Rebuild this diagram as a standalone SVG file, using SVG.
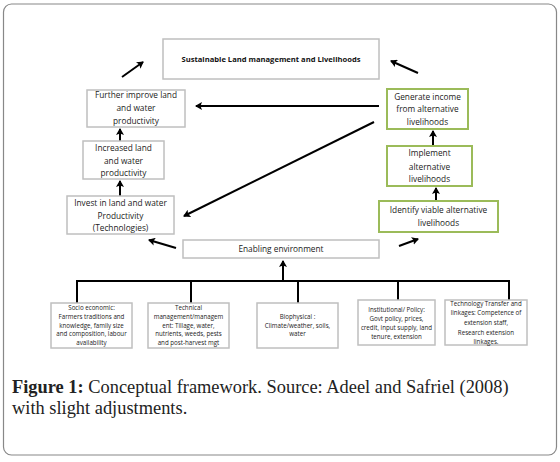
<svg xmlns="http://www.w3.org/2000/svg" width="560" height="462" viewBox="0 0 560 462">
<style>
.bx{fill:#fff;stroke:#bfbfbf;stroke-width:1.5}
.gb{fill:#fff;stroke:#9bbb59;stroke-width:2}
.t{font-family:"Open Sans","Liberation Sans",sans-serif;font-size:8.3px;fill:#222;text-anchor:middle}
.tb{font-family:"Open Sans","Liberation Sans",sans-serif;font-size:7.6px;font-weight:bold;fill:#111;text-anchor:middle}
.ts{font-family:"Open Sans","Liberation Sans",sans-serif;font-size:6.2px;fill:#222;text-anchor:middle}
.ar{stroke:#000;stroke-width:2;fill:none;marker-end:url(#ah)}
.ln{stroke:#000;stroke-width:2;fill:none}
.cap{font-family:"Liberation Serif",serif;font-size:18.4px;fill:#222}
</style>
<defs>
<marker id="ah" markerWidth="8" markerHeight="8" refX="6" refY="4" orient="auto" markerUnits="userSpaceOnUse">
<path d="M0,0 L7,4 L0,8 L1.5,4 Z" fill="#000"/>
</marker>
</defs>
<rect x="0" y="0" width="560" height="462" fill="#fff"/>
<rect x="3.5" y="4" width="553" height="451" rx="8" fill="#fff" stroke="#888" stroke-width="1.2"/>

<g id="connectors">
<line class="ar" x1="122" y1="77" x2="143" y2="62"/>
<line class="ar" x1="418" y1="73" x2="391" y2="61"/>
<line class="ar" x1="379" y1="106" x2="196" y2="106"/>
<line class="ar" x1="374" y1="122" x2="184" y2="216"/>
<line class="ar" x1="176" y1="248" x2="149" y2="240"/>
<line class="ar" x1="399" y1="246" x2="418" y2="239"/>
<line class="ar" x1="120" y1="141" x2="120" y2="129"/>
<line class="ar" x1="120" y1="196" x2="120" y2="181"/>
<line class="ar" x1="433" y1="146" x2="433" y2="131"/>
<line class="ar" x1="436" y1="201" x2="436" y2="188"/>
<line class="ar" x1="283" y1="281" x2="283" y2="261"/>
<polyline class="ln" points="77,303 77,281 509,281 509,300"/>
<line class="ln" x1="191" y1="281" x2="191" y2="303"/>
<line class="ln" x1="298" y1="281" x2="298" y2="303"/>
<line class="ln" x1="398" y1="281" x2="398" y2="300"/>
</g>

<g id="slm"><rect class="bx" x="163" y="39" width="216" height="40"/><text class="tb" x="271" y="62">Sustainable Land management and Livelihoods</text></g>
<g id="further"><rect class="bx" x="87" y="90" width="98" height="37"/><text class="t" x="136" y="98">Further improve land</text><text class="t" x="136" y="111">and water</text><text class="t" x="136" y="124">productivity</text></g>
<g id="increased"><rect class="bx" x="83" y="141" width="81" height="38"/><text class="t" x="123.5" y="151">Increased land</text><text class="t" x="123.5" y="164">and water</text><text class="t" x="123.5" y="176">productivity</text></g>
<g id="invest"><rect class="bx" x="67" y="196" width="107" height="38"/><text class="t" x="120.5" y="206">Invest in land and water</text><text class="t" x="120.5" y="219">Productivity</text><text class="t" x="120.5" y="231">(Technologies)</text></g>
<g id="generate"><rect class="gb" x="387" y="89" width="81" height="40"/><text class="t" x="427.5" y="100">Generate income</text><text class="t" x="427.5" y="112">from alternative</text><text class="t" x="427.5" y="125">livelihoods</text></g>
<g id="implement"><rect class="gb" x="387" y="146" width="85" height="40"/><text class="t" x="429.5" y="156">Implement</text><text class="t" x="429.5" y="170">alternative</text><text class="t" x="429.5" y="182">livelihoods</text></g>
<g id="identify"><rect class="gb" x="379" y="201" width="119" height="31"/><text class="t" x="438.5" y="213">Identify viable alternative</text><text class="t" x="438.5" y="226">livelihoods</text></g>
<g id="enabling"><rect class="bx" x="183" y="240" width="196" height="18"/><text class="t" x="281" y="252">Enabling environment</text></g>

<g id="socio"><rect class="bx" x="51" y="303" width="81" height="45"/><text class="ts" x="91.5" y="310">Socio economic:</text><text class="ts" x="91.5" y="319">Farmers traditions and</text><text class="ts" x="91.5" y="328">knowledge, family size</text><text class="ts" x="91.5" y="336">and composition, labour</text><text class="ts" x="91.5" y="345">availability</text></g>
<g id="technical"><rect class="bx" x="148" y="303" width="81" height="45"/><text class="ts" x="188.5" y="310">Technical</text><text class="ts" x="188.5" y="319">management/managem</text><text class="ts" x="188.5" y="328">ent: Tillage, water,</text><text class="ts" x="188.5" y="336">nutrients, weeds, pests</text><text class="ts" x="188.5" y="345">and post-harvest mgt</text></g>
<g id="biophysical"><rect class="bx" x="257" y="303" width="81" height="45"/><text class="ts" x="297.5" y="319">Biophysical :</text><text class="ts" x="297.5" y="328">Climate/weather, soils,</text><text class="ts" x="297.5" y="336">water</text></g>
<g id="institutional"><rect class="bx" x="358" y="300" width="77" height="45"/><text class="ts" x="396.5" y="312">Institutional/ Policy:</text><text class="ts" x="396.5" y="321">Govt policy, prices,</text><text class="ts" x="396.5" y="330">credit, input supply, land</text><text class="ts" x="396.5" y="339">tenure, extension</text></g>
<g id="techtransfer"><rect class="bx" x="445" y="300" width="82" height="45"/><text class="ts" x="486" y="306">Technology Transfer and</text><text class="ts" x="486" y="315">linkages: Competence of</text><text class="ts" x="486" y="325">extension staff,</text><text class="ts" x="486" y="335">Research extension</text><text class="ts" x="486" y="344">linkages.</text></g>

<text class="cap" x="12" y="393"><tspan font-weight="bold">Figure 1:</tspan> Conceptual framework. Source: Adeel and Safriel (2008)</text>
<text class="cap" x="12" y="414">with slight adjustments.</text>
</svg>
